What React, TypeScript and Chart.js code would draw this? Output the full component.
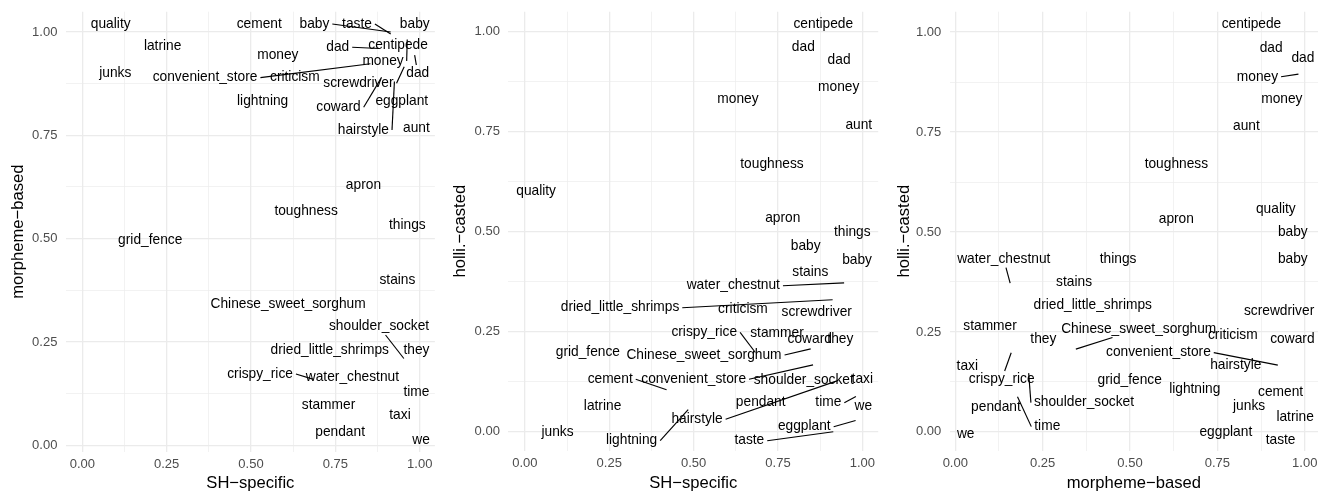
import React, { useEffect, useRef } from 'react';
import { Chart, registerables } from 'chart.js';

Chart.register(...registerables);

// One row per item: the word and its three scores.
const words = [
  'quality', 'cement', 'baby', 'taste', 'baby', 'latrine', 'dad', 'centipede', 'money', 'money',
  'dad', 'junks', 'convenient_store', 'criticism', 'screwdriver', 'lightning', 'coward', 'eggplant',
  'hairstyle', 'aunt', 'apron', 'toughness', 'things', 'grid_fence', 'stains', 'Chinese_sweet_sorghum',
  'shoulder_socket', 'dried_little_shrimps', 'they', 'crispy_rice', 'water_chestnut', 'time', 'stammer',
  'taxi', 'pendant', 'we',
];

const shSpecific = [
  0.05, 0.42, 0.914, 0.914, 0.985, 0.235, 0.88, 0.9, 0.61, 0.963,
  0.985, 0.098, 0.854, 0.64, 0.954, 0.484, 0.887, 0.98,
  0.925, 0.99, 0.8, 0.7, 0.967, 0.195, 0.89, 0.847,
  0.953, 0.912, 0.96, 0.683, 0.946, 0.981, 0.74,
  0.97, 0.73, 0.995,
];

const morphemeBased = [
  0.98, 0.98, 1.0, 0.995, 1.0, 0.97, 0.96, 0.94, 0.94, 0.982,
  0.944, 0.89, 0.923, 0.88, 0.916, 0.79, 0.89, 0.82,
  0.88, 0.785, 0.63, 0.59, 0.505, 0.498, 0.37, 0.345,
  0.21, 0.235, 0.24, 0.16, 0.157, 0.178, 0.098,
  0.055, 0.06, 0.025,
];

const holliCasted = [
  0.58, 0.105, 0.48, 0.0, 0.43, 0.05, 0.96, 0.995, 0.831, 0.895,
  0.93, 0.03, 0.167, 0.274, 0.3, 0.055, 0.232, 0.028,
  0.127, 0.765, 0.533, 0.668, 0.465, 0.165, 0.385, 0.207,
  0.147, 0.33, 0.232, 0.198, 0.372, 0.088, 0.255,
  0.147, 0.067, 0.03,
];

const majorTicks = [0, 0.25, 0.5, 0.75, 1];
const tickLabels = ['0.00', '0.25', '0.50', '0.75', '1.00'];
const minorTicks = [0.125, 0.375, 0.625, 0.875];

// Repelled label placement per panel: [dx, dy, leader] in pixels from the point.
const nudgeShMorph = [
  [11.5, -16.3, 0], [35.2, -16.3, 0], [-76.3, -8, 1], [-33.7, -10.1, 1], [0.1, -8, 0],
  [1, 2.3, 0], [-41.5, -1.2, 1], [12.1, -11.1, 0], [-10.3, -1.8, 0], [-24.2, 21.6, 1],
  [3.1, 18.2, 1], [-0.1, -4.2, 0], [-165.4, 13.9, 1], [-3.4, -3.9, 0], [-45.8, 16.6, 1],
  [17, -17.1, 0], [-43.1, 29.8, 1], [-11.2, -4.7, 0], [-31, 48.4, 1], [0.1, 7.4, 0],
  [11.2, 0.1, 0], [-12.4, 10.2, 0], [-1.2, -10.9, 0], [2.1, 0.5, 0], [14.8, -12.4, 0],
  [-80, 1.3, 0], [-24.8, -31.8, 1], [-60.3, 1.8, 0], [10.2, 3.9, 0], [-52.7, -5.2, 1],
  [-49.1, -3.1, 0], [3.1, 20, 0], [-3.5, 0.2, 0], [-9.6, -7.6, 0], [11.5, 12.2, 0],
  [3, 5.7, 0],
];

const nudgeShHolli = [
  [-5.6, -8, 0], [-56.4, -10.4, 1], [-27.6, 7, 0], [-84, 9, 1], [-0.2, 0.3, 0],
  [-1.6, -5, 0], [-18.5, 0, 0], [-5.3, -9.7, 0], [7.2, 0, 0], [-11.1, 13.6, 0],
  [-18.2, 0.3, 0], [-0.4, 13, 0], [-119.4, 14.4, 1], [2.1, -13.1, 0], [-30.1, 1, 0],
  [-56.6, 31, 1], [-14.5, 0.1, 0], [-51.3, 6.2, 1], [-140, 38.4, 1], [-0.2, 0, 0],
  [-12.1, -0.2, 0], [10.9, -0.2, 0], [1.1, -13.4, 0], [-2.8, -13.4, 0], [-14.9, -5.4, 0],
  [-106.7, 6.1, 1], [-42.7, 7.1, 0], [-212.6, 8, 1], [-8.5, 0.1, 0], [-51.1, -20.2, 1],
  [-110.8, 2.8, 1], [-27.6, 6.2, 1], [2.4, 3.6, 0], [10.1, 6.4, 0], [-10.5, -2.2, 0],
  [2.7, -13.7, 0],
];

const nudgeMorphHolli = [
  [-21.9, 9, 0], [-17.1, 2.7, 0], [-11.9, -7.7, 0], [-22.4, 8, 0], [-11.9, -0.7, 0],
  [0.9, 5.3, 0], [-19.6, -0.3, 0], [-32.3, -10, 0], [-1.9, -0.3, 0], [-41, 2.7, 1],
  [17.7, -1.7, 0], [-17.2, -14, 0], [-119.4, -12.5, 1], [-30, 13.3, 0], [3.7, -0.3, 0],
  [-36.6, -21, 0], [26.1, 0.1, 0], [-16, 11.9, 0], [-27, -15.5, 0], [16.8, -0.3, 0],
  [0.9, 0.2, 0], [14.9, -0.5, 0], [-13.7, 13.3, 0], [0.4, 14, 0], [-10.5, 4.7, 0],
  [62.9, -19.9, 1], [55.3, 29.5, 1], [55.3, 5.7, 0], [4.2, 0.1, 0], [-9.5, 26.5, 1],
  [-6.4, -23.9, 1], [29.8, 29.9, 1], [0.5, -4, 0], [-7.2, -6.5, 0], [19.7, 2.1, 0],
  [1.7, 14, 0],
];

const FONT = '"Liberation Sans", Arial, Helvetica, sans-serif';
const HEIGHT = 491;
const LABEL_SIZE = 13.75;

type PanelSpec = {
  xs: number[];
  ys: number[];
  nudges: number[][];
  xTitle: string;
  yTitle: string;
  left: number;
  width: number;
  areaLeft: number;
  areaRight: number;
  areaTop: number;
  areaBottom: number;
  xMin: number;
  xMax: number;
  yMin: number;
  yMax: number;
  yTitlePad: number;
};

const panels: PanelSpec[] = [
  {
    xs: shSpecific, ys: morphemeBased, nudges: nudgeShMorph,
    xTitle: 'SH\u2212specific', yTitle: 'morpheme\u2212based',
    left: 0, width: 440, areaLeft: 65.8, areaRight: 434.9, areaTop: 11.7, areaBottom: 451.7,
    xMin: -0.049, xMax: 1.045, yMin: -0.0155, yMax: 1.049, yTitlePad: 10,
  },
  {
    xs: shSpecific, ys: holliCasted, nudges: nudgeShHolli,
    xTitle: 'SH\u2212specific', yTitle: 'holli.\u2212casted',
    left: 440, width: 440, areaLeft: 68.3, areaRight: 438.2, areaTop: 11.7, areaBottom: 450.7,
    xMin: -0.049, xMax: 1.047, yMin: -0.0475, yMax: 1.05, yTitlePad: 12.4,
  },
  {
    xs: morphemeBased, ys: holliCasted, nudges: nudgeMorphHolli,
    xTitle: 'morpheme\u2212based', yTitle: 'holli.\u2212casted',
    left: 880, width: 438, areaLeft: 69.7, areaRight: 438, areaTop: 11.7, areaBottom: 450.7,
    xMin: -0.016, xMax: 1.038, yMin: -0.047, yMax: 1.051, yTitlePad: 15.7,
  },
];

const allTicks = [...majorTicks, ...minorTicks].sort((a, b) => a - b);
const isMajor = (v: number | undefined) =>
  v !== undefined && majorTicks.some((m) => Math.abs(m - v) < 1e-9);
const tickText = (v: number) => {
  const i = majorTicks.findIndex((m) => Math.abs(m - v) < 1e-9);
  return i >= 0 ? tickLabels[i] : '';
};

// Text labels with leader segments, in the style of ggrepel.
function textRepelPlugin(spec: PanelSpec) {
  return {
    id: 'textRepel',
    afterDatasetsDraw(chart: any) {
      const { ctx, scales } = chart;
      ctx.save();
      ctx.font = `${LABEL_SIZE}px ${FONT}`;
      const items = words.map((w, i) => {
        const px = scales.x.getPixelForValue(spec.xs[i]);
        const py = scales.y.getPixelForValue(spec.ys[i]);
        const [dx, dy, leader] = spec.nudges[i];
        return {
          w, px, py, leader,
          cx: px + dx,
          cy: py + dy,
          hw: ctx.measureText(w).width / 2 + 3,
          hh: 8.3,
        };
      });
      ctx.strokeStyle = '#000';
      ctx.lineWidth = 1.15;
      ctx.lineCap = 'butt';
      for (const it of items) {
        if (!it.leader) continue;
        let sx: number;
        let sy: number;
        if (it.px < it.cx - it.hw) {
          sx = it.cx - it.hw; sy = it.cy;
        } else if (it.px > it.cx + it.hw) {
          sx = it.cx + it.hw; sy = it.cy;
        } else {
          const t = it.hh / Math.max(Math.abs(it.py - it.cy), 1e-6);
          sx = it.cx + (it.px - it.cx) * t;
          sy = it.cy + Math.sign(it.py - it.cy) * it.hh;
        }
        ctx.beginPath();
        ctx.moveTo(sx, sy);
        ctx.lineTo(it.px, it.py);
        ctx.stroke();
      }
      ctx.fillStyle = '#000';
      ctx.textAlign = 'center';
      ctx.textBaseline = 'middle';
      for (const it of items) ctx.fillText(it.w, it.cx, it.cy);
      ctx.restore();
    },
  };
}

function ScatterPanel({ spec }: { spec: PanelSpec }) {
  const ref = useRef<HTMLCanvasElement>(null);

  useEffect(() => {
    const canvas = ref.current;
    if (!canvas) return;
    const grid = {
      color: '#EBEBEB',
      lineWidth: (c: any) => (isMajor(c.tick?.value) ? 1.3 : 0.65),
      drawTicks: false,
    };
    const tickFont = { family: FONT, size: 13 };
    const chart = new Chart(canvas, {
      type: 'scatter',
      data: {
        datasets: [{
          data: spec.xs.map((x, i) => ({ x, y: spec.ys[i] })),
          pointRadius: 0,
          pointHoverRadius: 0,
        }],
      },
      options: {
        animation: false,
        responsive: false,
        devicePixelRatio: 1,
        events: [],
        layout: {
          padding: { left: 0, right: spec.width - spec.areaRight, top: spec.areaTop, bottom: 0 },
        },
        plugins: { legend: { display: false }, tooltip: { enabled: false } },
        scales: {
          x: {
            type: 'linear',
            min: spec.xMin,
            max: spec.xMax,
            afterBuildTicks: (s: any) => { s.ticks = allTicks.map((value) => ({ value })); },
            afterFit: (s: any) => {
              s.height = HEIGHT - spec.areaBottom;
              s.paddingLeft = 0; s.paddingRight = 0;
            },
            ticks: {
              autoSkip: false, maxRotation: 0, minRotation: 0, padding: 5,
              color: '#4D4D4D', font: tickFont,
              callback: (v: any) => tickText(Number(v)),
            },
            grid,
            border: { display: false },
            title: {
              display: true, text: spec.xTitle, color: '#000',
              font: { family: FONT, size: 16.6, lineHeight: 0.9 },
              padding: { top: 0, bottom: 0 },
            },
          },
          y: {
            type: 'linear',
            min: spec.yMin,
            max: spec.yMax,
            afterBuildTicks: (s: any) => { s.ticks = allTicks.map((value) => ({ value })); },
            afterFit: (s: any) => {
              s.width = spec.areaLeft;
              s.paddingTop = 0; s.paddingBottom = 0;
            },
            ticks: {
              autoSkip: false, padding: 8.4,
              color: '#4D4D4D', font: tickFont,
              callback: (v: any) => tickText(Number(v)),
            },
            grid,
            border: { display: false },
            title: {
              display: true, text: spec.yTitle, color: '#000',
              font: { family: FONT, size: 16.6, lineHeight: 1 },
              padding: { top: spec.yTitlePad, bottom: 0 },
            },
          },
        },
      } as any,
      plugins: [textRepelPlugin(spec)],
    });
    return () => chart.destroy();
  }, [spec]);

  return (
    <canvas
      ref={ref}
      width={spec.width}
      height={HEIGHT}
      style={{ position: 'absolute', left: spec.left, top: 0, width: spec.width, height: HEIGHT }}
    />
  );
}

export default function App() {
  return (
    <div style={{ position: 'absolute', left: 0, top: 0, width: 1318, height: HEIGHT, background: '#fff' }}>
      {panels.map((p, i) => (
        <ScatterPanel key={i} spec={p} />
      ))}
    </div>
  );
}
